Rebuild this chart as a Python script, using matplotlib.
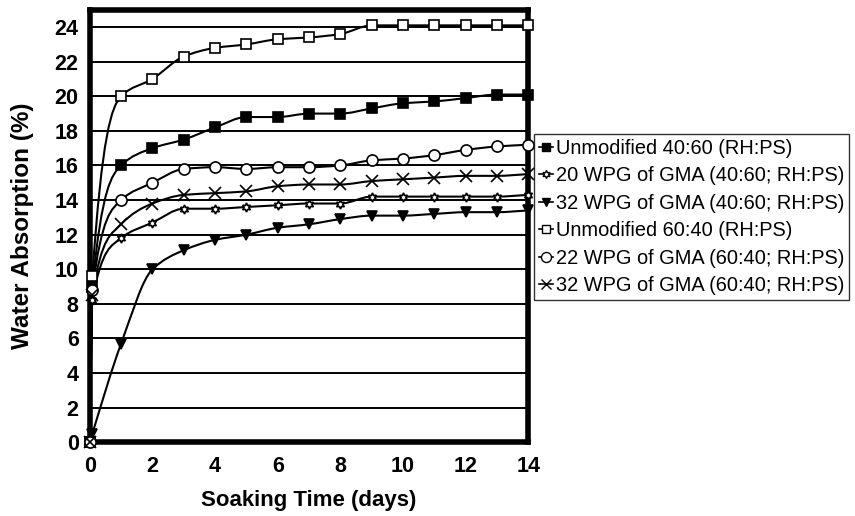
import numpy as np
import matplotlib
matplotlib.use("Agg")
from matplotlib import pyplot as plt
from matplotlib.path import Path
from matplotlib.patches import PathPatch
from matplotlib.lines import Line2D

plt.rcParams['font.family'] = ['Liberation Sans', 'DejaVu Sans']

days = [0, 0.083, 1, 2, 3, 4, 5, 6, 7, 8, 9, 10, 11, 12, 13, 14]

unmod_4060 = [0, 9.0, 16.0, 17.0, 17.5, 18.2, 18.8, 18.8, 19.0, 19.0, 19.3, 19.6, 19.7, 19.9, 20.1, 20.1]
wpg20_4060 = [0, 8.2, 11.8, 12.7, 13.5, 13.5, 13.6, 13.7, 13.8, 13.8, 14.2, 14.2, 14.2, 14.2, 14.2, 14.3]
wpg32_4060 = [0, 0.5, 5.7, 10.0, 11.1, 11.7, 12.0, 12.4, 12.6, 12.9, 13.1, 13.1, 13.2, 13.3, 13.3, 13.4]
unmod_6040 = [0, 9.6, 20.0, 21.0, 22.3, 22.8, 23.0, 23.3, 23.4, 23.6, 24.1, 24.1, 24.1, 24.1, 24.1, 24.1]
wpg22_6040 = [0, 8.8, 14.0, 15.0, 15.8, 15.9, 15.8, 15.9, 15.9, 16.0, 16.3, 16.4, 16.6, 16.9, 17.1, 17.2]
wpg32_6040 = [0, 8.5, 12.6, 13.8, 14.3, 14.4, 14.5, 14.8, 14.9, 14.9, 15.1, 15.2, 15.3, 15.4, 15.4, 15.5]

labels = ["Unmodified 40:60 (RH:PS)",
          "20 WPG of GMA (40:60; RH:PS)",
          "32 WPG of GMA (40:60; RH:PS)",
          "Unmodified 60:40 (RH:PS)",
          "22 WPG of GMA (60:40; RH:PS)",
          "32 WPG of GMA (60:40; RH:PS)"]

series = [unmod_4060, wpg20_4060, wpg32_4060, unmod_6040, wpg22_6040, wpg32_6040]
styles = [dict(marker='s', mfc='black', ms=6.5),
          dict(marker=(6, 1, 0), mfc='white', ms=6.5),
          dict(marker='v', mfc='black', ms=7),
          dict(marker='s', mfc='white', ms=7),
          dict(marker='o', mfc='white', ms=8),
          dict(marker='x', mfc='none', ms=8)]


def smooth_path(x, y):
    # monotone cubic (Fritsch-Carlson) drawn as bezier segments
    x = np.asarray(x, float)
    y = np.asarray(y, float)
    h = np.diff(x)
    d = np.diff(y) / h
    m = np.zeros_like(y)
    m[0], m[-1] = d[0], d[-1]
    for k in range(1, len(x) - 1):
        if d[k - 1] * d[k] <= 0:
            m[k] = 0
        else:
            w1 = 2 * h[k] + h[k - 1]
            w2 = h[k] + 2 * h[k - 1]
            m[k] = (w1 + w2) / (w1 / d[k - 1] + w2 / d[k])
    verts = [(x[0], y[0])]
    codes = [Path.MOVETO]
    for k in range(len(x) - 1):
        verts += [(x[k] + h[k] / 3, y[k] + m[k] * h[k] / 3),
                  (x[k + 1] - h[k] / 3, y[k + 1] - m[k + 1] * h[k] / 3),
                  (x[k + 1], y[k + 1])]
        codes += [Path.CURVE4] * 3
    return Path(verts, codes)


fig = plt.figure(figsize=(8.55, 5.16), dpi=100)
ax = fig.add_axes([0.105, 0.143, 0.513, 0.838])

for vals, st, lab in zip(series, styles, labels):
    ax.add_patch(PathPatch(smooth_path(days, vals), fill=False, lw=1.5, ec='black', zorder=3))
    ax.plot(days, vals, ls='none', marker=st['marker'], mfc=st['mfc'], mec='black',
            ms=st['ms'], mew=1.2, zorder=4, clip_on=False)

ax.set_xlim(0, 14)
ax.set_ylim(0, 25)
ax.set_xticks(range(0, 15, 2))
ax.set_yticks(range(0, 25, 2))
for yv in range(2, 25, 2):
    ax.axhline(yv, color='black', lw=1.4, zorder=1)
ax.tick_params(length=0, labelsize=15.5)
for t in ax.get_xticklabels() + ax.get_yticklabels():
    t.set_fontweight('bold')
ax.tick_params(axis='x', pad=10)
ax.tick_params(axis='y', pad=8)
for s in ax.spines.values():
    s.set_linewidth(4)

ax.set_xlabel("Soaking Time (days)", fontsize=16, fontweight='bold', labelpad=9)
ax.set_ylabel("Water Absorption (%)", fontsize=17.5, fontweight='bold', labelpad=15)

handles = [Line2D([0], [0], color='black', lw=1.2, marker=st['marker'], mfc=st['mfc'],
                  mec='black', ms=st['ms'] * 0.9, mew=1.0) for st in styles]
leg = fig.legend(handles, labels, loc='upper left', bbox_to_anchor=(534 / 855, 1 - 134 / 516),
                 fontsize=14.4, frameon=True, fancybox=False, edgecolor='black',
                 handlelength=0.7, handletextpad=0.15, labelspacing=0.42, borderpad=0.25,
                 borderaxespad=0)
leg.get_frame().set_linewidth(1.0)

fig.savefig("out.png", dpi=100)
